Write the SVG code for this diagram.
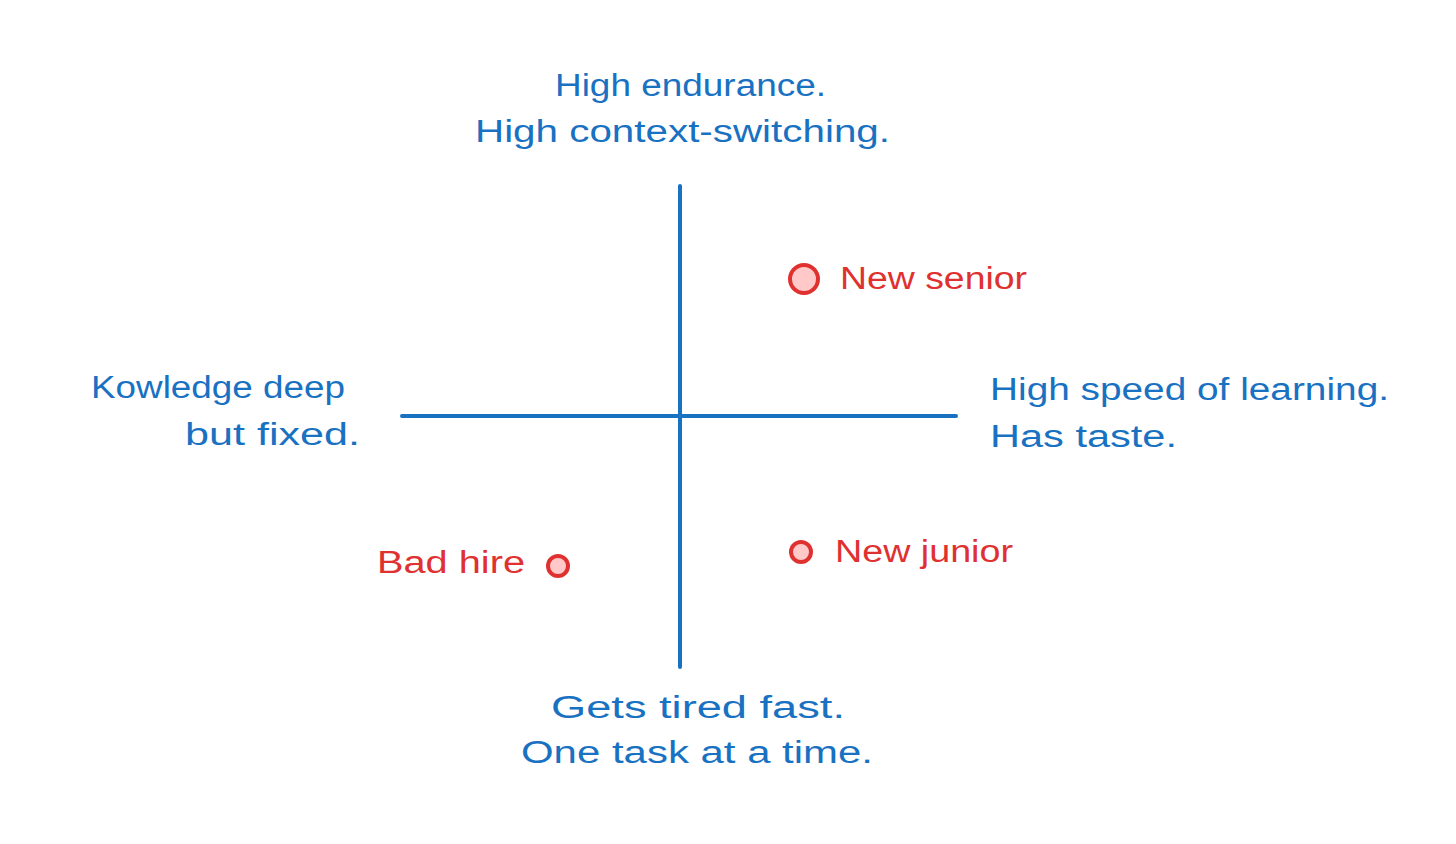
<svg xmlns="http://www.w3.org/2000/svg" width="1456" height="844" viewBox="0 0 1456 844">
<style>
.lbl{font-family:"Liberation Sans","Noto Sans",sans-serif;font-size:31px;fill:#1971c2;}
.pt{font-family:"Liberation Sans","Noto Sans",sans-serif;font-size:31px;fill:#e03131;}
.axis{stroke:#1971c2;stroke-width:4;stroke-linecap:round;fill:none;}
.dot{stroke:#e03131;stroke-width:4;fill:#ffc9c9;}
</style>
<rect width="1456" height="844" fill="#ffffff"/>
<g id="connectors">
<line class="axis" x1="680" y1="186" x2="680" y2="667"/>
<line class="axis" x1="402" y1="416" x2="956" y2="416"/>
</g>
<g id="top-label">
<text class="lbl" x="555" y="96" textLength="271" lengthAdjust="spacingAndGlyphs">High endurance.</text>
<text class="lbl" x="475" y="142" textLength="415" lengthAdjust="spacingAndGlyphs">High context-switching.</text>
</g>
<g id="left-label">
<text class="lbl" x="91" y="398" textLength="254" lengthAdjust="spacingAndGlyphs">Kowledge deep</text>
<text class="lbl" x="185" y="445" textLength="175" lengthAdjust="spacingAndGlyphs">but fixed.</text>
</g>
<g id="right-label">
<text class="lbl" x="990" y="400" textLength="399" lengthAdjust="spacingAndGlyphs">High speed of learning.</text>
<text class="lbl" x="990" y="447" textLength="187" lengthAdjust="spacingAndGlyphs">Has taste.</text>
</g>
<g id="bottom-label">
<text class="lbl" x="551" y="718" textLength="294" lengthAdjust="spacingAndGlyphs">Gets tired fast.</text>
<text class="lbl" x="521" y="763" textLength="352" lengthAdjust="spacingAndGlyphs">One task at a time.</text>
</g>
<g id="new-senior">
<circle class="dot" cx="804" cy="279" r="14"/>
<text class="pt" x="840" y="289" textLength="187" lengthAdjust="spacingAndGlyphs">New senior</text>
</g>
<g id="bad-hire">
<circle class="dot" cx="558" cy="566" r="10"/>
<text class="pt" x="377" y="573" textLength="148" lengthAdjust="spacingAndGlyphs">Bad hire</text>
</g>
<g id="new-junior">
<circle class="dot" cx="801" cy="552" r="10"/>
<text class="pt" x="835" y="562" textLength="178" lengthAdjust="spacingAndGlyphs">New junior</text>
</g>
</svg>
